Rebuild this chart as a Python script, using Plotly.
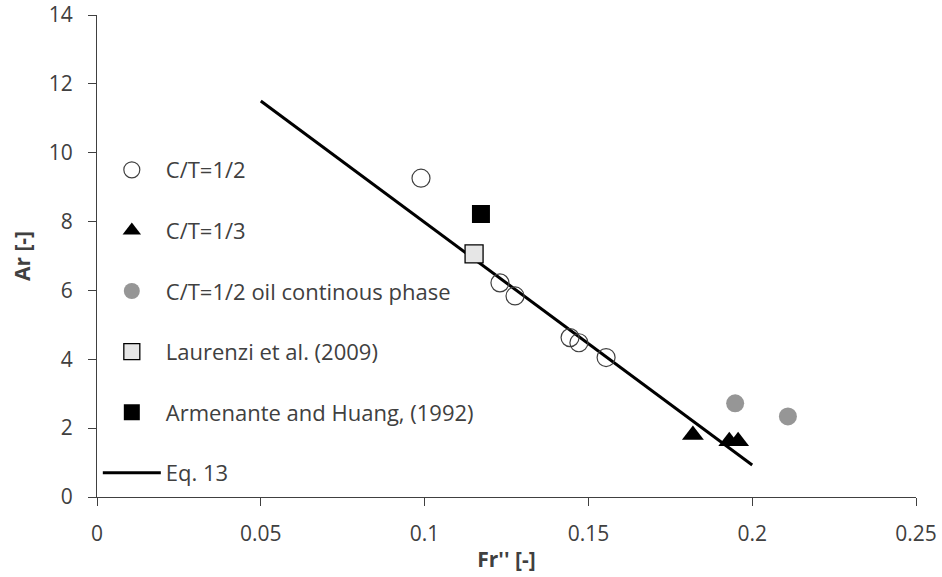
import plotly.graph_objects as go

# Data
ct12_x = [0.0989, 0.1230, 0.1276, 0.1444, 0.1471, 0.1554]
ct12_y = [9.26, 6.22, 5.84, 4.63, 4.48, 4.05]

ct13_x = [0.1819, 0.1930, 0.1957]
ct13_y = [1.80, 1.62, 1.62]

oil_x = [0.1948, 0.2109]
oil_y = [2.72, 2.34]

laurenzi_x = [0.1151]
laurenzi_y = [7.06]

armenante_x = [0.1172]
armenante_y = [8.22]

eq13_x = [0.05, 0.20]
eq13_y = [11.5, 0.93]

x_ticks = [0, 0.05, 0.1, 0.15, 0.2, 0.25]
y_ticks = [0, 2, 4, 6, 8, 10, 12, 14]

FONT = "Open Sans"
TXT = "#404040"

fig = go.Figure()

fig.add_trace(go.Scatter(
    x=eq13_x, y=eq13_y, mode="lines", name="Eq. 13",
    line=dict(color="black", width=3), legendrank=6, legendgroup="g6"))

fig.add_trace(go.Scatter(
    x=ct12_x, y=ct12_y, mode="markers", name="C/T=1/2",
    marker=dict(symbol="circle-open", size=18, color="#404040", line=dict(width=1.2)),
    legendrank=1, legendgroup="g1"))

fig.add_trace(go.Scatter(
    x=ct13_x, y=ct13_y, mode="markers", name="C/T=1/3",
    marker=dict(symbol="triangle-up", size=19, color="black"),
    legendrank=2, legendgroup="g2"))

fig.add_trace(go.Scatter(
    x=oil_x, y=oil_y, mode="markers", name="C/T=1/2 oil continous phase",
    marker=dict(symbol="circle", size=18, color="#969696"),
    legendrank=3, legendgroup="g3"))

fig.add_trace(go.Scatter(
    x=laurenzi_x, y=laurenzi_y, mode="markers", name="Laurenzi et al. (2009)",
    marker=dict(symbol="square", size=18, color="#e6e6e6", line=dict(color="black", width=1.3)),
    legendrank=4, legendgroup="g4"))

fig.add_trace(go.Scatter(
    x=armenante_x, y=armenante_y, mode="markers", name="Armenante and Huang, (1992)",
    marker=dict(symbol="square", size=18, color="black"),
    legendrank=5, legendgroup="g5"))

fig.update_layout(
    width=942, height=577,
    margin=dict(l=97, r=26, t=15, b=80, autoexpand=False),
    paper_bgcolor="white", plot_bgcolor="white",
    font=dict(family=FONT, size=22, color=TXT),
    showlegend=True,
    legend=dict(
        x=0.001, y=0.722, xanchor="left", yanchor="top",
        bgcolor="rgba(0,0,0,0)",
        font=dict(family=FONT, size=22, color=TXT),
        tracegroupgap=29, itemwidth=58,
    ),
    xaxis=dict(
        range=[0, 0.25], tickvals=x_ticks, ticktext=[str(v) for v in x_ticks],
        automargin=False, ticklabeloverflow="allow", ticklabelstandoff=10,
        showgrid=False, zeroline=False, showline=True, linecolor="#404040", linewidth=1,
        ticks="outside", ticklen=8, tickcolor="#404040",
        tickfont=dict(family=FONT, size=21, color=TXT),
        title=dict(text="<b>Fr'' [-]</b>", font=dict(family=FONT, size=21, color=TXT), standoff=6),
    ),
    yaxis=dict(
        range=[0, 14], tickvals=y_ticks,
        automargin=False, ticklabeloverflow="allow", ticklabelstandoff=11,
        showgrid=False, zeroline=False, showline=True, linecolor="#404040", linewidth=1,
        ticks="outside", ticklen=8, tickcolor="#404040",
        tickfont=dict(family=FONT, size=21, color=TXT),
        title=dict(text="<b>Ar [-]</b>", font=dict(family=FONT, size=21, color=TXT), standoff=12),
    ),
)

fig.write_html("out.html", config={"displayModeBar": False},
               post_script="document.body.style.margin='0';")
